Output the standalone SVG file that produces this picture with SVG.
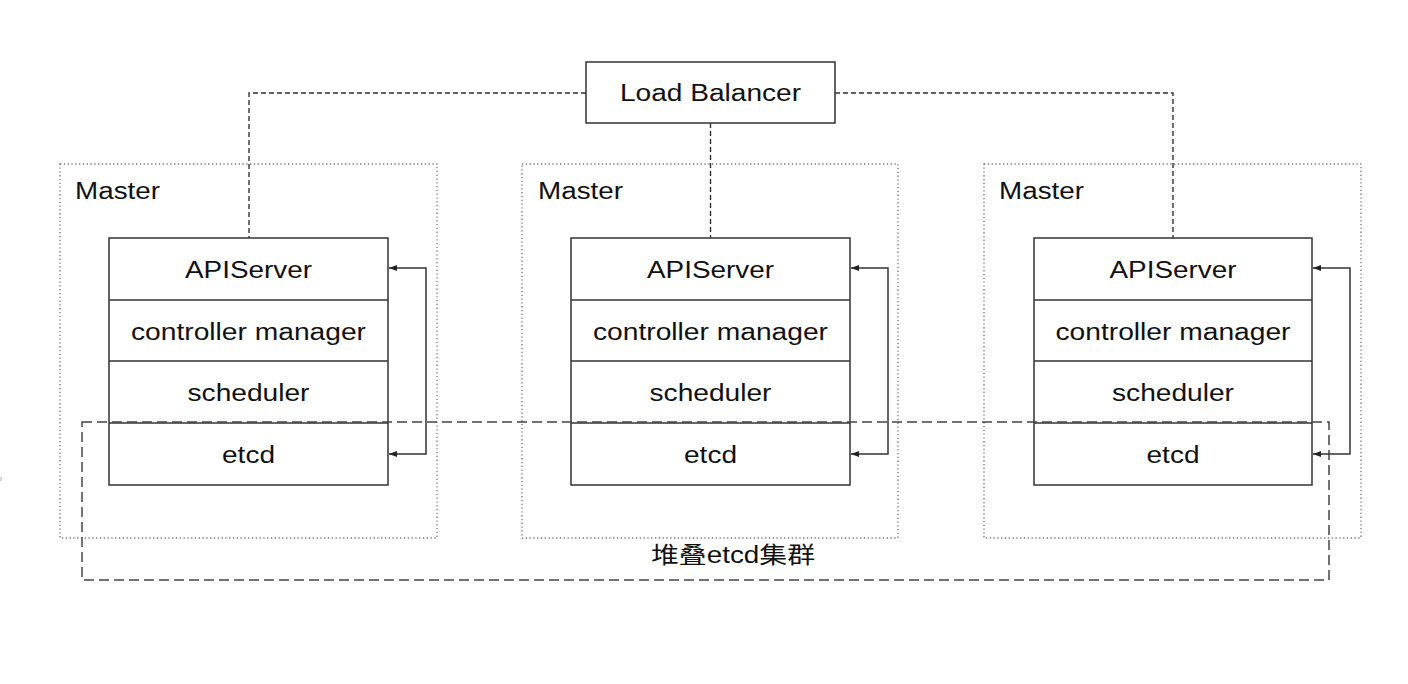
<svg xmlns="http://www.w3.org/2000/svg" width="1408" height="684" viewBox="0 0 1408 684">
<style>
text{font-family:"Liberation Sans",Arial,"Noto Sans CJK SC",sans-serif;font-size:23px;fill:#111}
.c{text-anchor:middle}
.master{fill:none;stroke:#777;stroke-width:1.3;stroke-dasharray:1.3 2.5}
.box{fill:#fff;stroke:#333;stroke-width:1.5}
.row{stroke:#333;stroke-width:1.5}
.lb{fill:none;stroke:#333;stroke-width:1.4;stroke-dasharray:5 3}
.cluster{fill:none;stroke:#444;stroke-width:1.5;stroke-dasharray:10 5}
.arr{fill:none;stroke:#333;stroke-width:1.5}
</style>
<defs>
<marker id="ah" markerWidth="8" markerHeight="6" refX="8" refY="3" orient="auto-start-reverse" markerUnits="userSpaceOnUse">
<path d="M0,0 L8,3 L0,6 Z" fill="#222"/>
</marker>
</defs>
<rect width="1408" height="684" fill="#fff"/>
<line x1="1" y1="477" x2="1" y2="481" stroke="#aaa" stroke-width="1"/>

<g id="master1">
<rect class="master" x="60" y="164" width="377" height="374"/>
<text x="75" y="199" textLength="85" lengthAdjust="spacingAndGlyphs">Master</text>
</g>
<g id="master2">
<rect class="master" x="522" y="164" width="376" height="374"/>
<text x="538" y="199" textLength="85" lengthAdjust="spacingAndGlyphs">Master</text>
</g>
<g id="master3">
<rect class="master" x="984" y="164" width="377" height="374"/>
<text x="999" y="199" textLength="85" lengthAdjust="spacingAndGlyphs">Master</text>
</g>

<g id="stack1">
<rect class="box" x="109" y="238" width="279" height="247"/>
<line class="row" x1="109" y1="300" x2="388" y2="300"/>
<line class="row" x1="109" y1="361" x2="388" y2="361"/>
<line class="row" x1="109" y1="423" x2="388" y2="423"/>
<text class="c" x="248.5" y="278" textLength="127" lengthAdjust="spacingAndGlyphs">APIServer</text>
<text class="c" x="248.5" y="340" textLength="235" lengthAdjust="spacingAndGlyphs">controller manager</text>
<text class="c" x="248.5" y="401" textLength="122" lengthAdjust="spacingAndGlyphs">scheduler</text>
<text class="c" x="248.5" y="463" textLength="53" lengthAdjust="spacingAndGlyphs">etcd</text>
</g>
<g id="stack2">
<rect class="box" x="571" y="238" width="279" height="247"/>
<line class="row" x1="571" y1="300" x2="850" y2="300"/>
<line class="row" x1="571" y1="361" x2="850" y2="361"/>
<line class="row" x1="571" y1="423" x2="850" y2="423"/>
<text class="c" x="710.5" y="278" textLength="127" lengthAdjust="spacingAndGlyphs">APIServer</text>
<text class="c" x="710.5" y="340" textLength="235" lengthAdjust="spacingAndGlyphs">controller manager</text>
<text class="c" x="710.5" y="401" textLength="122" lengthAdjust="spacingAndGlyphs">scheduler</text>
<text class="c" x="710.5" y="463" textLength="53" lengthAdjust="spacingAndGlyphs">etcd</text>
</g>
<g id="stack3">
<rect class="box" x="1034" y="238" width="278" height="247"/>
<line class="row" x1="1034" y1="300" x2="1312" y2="300"/>
<line class="row" x1="1034" y1="361" x2="1312" y2="361"/>
<line class="row" x1="1034" y1="423" x2="1312" y2="423"/>
<text class="c" x="1173" y="278" textLength="127" lengthAdjust="spacingAndGlyphs">APIServer</text>
<text class="c" x="1173" y="340" textLength="235" lengthAdjust="spacingAndGlyphs">controller manager</text>
<text class="c" x="1173" y="401" textLength="122" lengthAdjust="spacingAndGlyphs">scheduler</text>
<text class="c" x="1173" y="463" textLength="53" lengthAdjust="spacingAndGlyphs">etcd</text>
</g>

<g id="load-balancer">
<rect class="box" x="586" y="62" width="249" height="61"/>
<text class="c" x="710.5" y="101" textLength="181" lengthAdjust="spacingAndGlyphs">Load Balancer</text>
</g>

<g id="etcd-cluster">
<rect class="cluster" x="82" y="422" width="1247" height="158"/>
<text class="c" x="733" y="563" textLength="164" lengthAdjust="spacingAndGlyphs">堆叠etcd集群</text>
</g>

<g id="connectors">
<path class="lb" d="M586,93 H249 V238"/>
<path class="lb" d="M710.5,123 V238"/>
<path class="lb" d="M835,93 H1173 V238"/>
<path class="arr" d="M389,268 H426 V454 H389" marker-start="url(#ah)" marker-end="url(#ah)"/>
<path class="arr" d="M851,268 H888 V454 H851" marker-start="url(#ah)" marker-end="url(#ah)"/>
<path class="arr" d="M1313,268 H1350 V454 H1313" marker-start="url(#ah)" marker-end="url(#ah)"/>
</g>
</svg>
